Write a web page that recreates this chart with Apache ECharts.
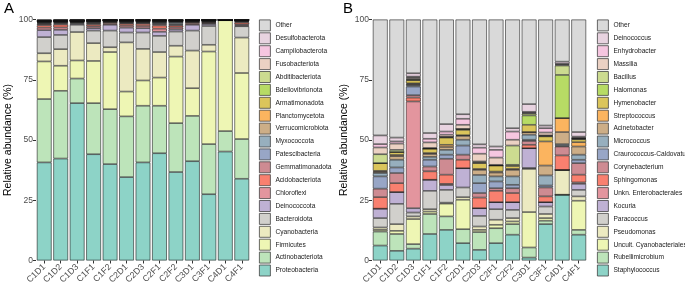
<!DOCTYPE html>
<html>
<head>
<meta charset="utf-8">
<script src="https://cdn.jsdelivr.net/npm/echarts@6/dist/echarts.min.js"></script>
<style>
  html, body {margin: 0; padding: 0; background: #fff;}
  #chart {width: 685px; height: 290px;}
</style>
</head>
<body>
<div id="chart"></div>
<script>
const samples = ['C1D1', 'C1D2', 'C1D3', 'C1F1', 'C1F2', 'C2D1', 'C2D3', 'C2F1', 'C2F2', 'C3D1', 'C3F1', 'C4D1', 'C4F1']
const yTicks = [0, 25, 50, 75, 100]

// panel A, phyla (bottom of stack first)
const proteobacteria = [40.7, 42.3, 65.3, 44.1, 40.0, 34.6, 40.7, 44.5, 36.7, 41.2, 27.5, 45.2, 33.9]
const actinobacteriota = [26.3, 28.1, 10.2, 21.2, 22.8, 25.2, 23.5, 19.7, 20.3, 18.8, 20.8, 8.5, 16.5]
const firmicutes = [15.6, 10.4, 7.5, 17.5, 23.7, 10.3, 10.5, 11.7, 27.6, 11.5, 38.4, 46.0, 27.4]
const cyanobacteria = [3.4, 6.9, 11.8, 7.4, 2.0, 20.4, 13.1, 10.6, 4.5, 15.6, 2.8, 0, 14.7]
const bacteroidota = [6.7, 5.9, 3.0, 5.2, 6.9, 4.1, 6.8, 6.7, 5.9, 8.3, 7.8, 0, 4.7]
const deinococcota = [2.9, 2.1, 0.5, 1.0, 2.4, 2.0, 1.8, 1.7, 0.9, 2.4, 0.8, 0, 0.3]
const chloroflexi = [1.0, 1.0, 0.3, 0.8, 0.5, 0.8, 0.9, 1.3, 0.8, 0.5, 0.4, 0.05, 0.5]
const acidobacteriota = [1.0, 1.2, 0.3, 0.8, 0.5, 0.8, 0.9, 1.3, 0.8, 0.5, 0.4, 0.05, 0.8]
const gemmatimonadota = [0.5, 0.4, 0.2, 0.4, 0.2, 0.4, 0.4, 0.5, 0.4, 0.2, 0.2, 0.02, 0.3]
const patescibacteria = [0.3, 0.3, 0.1, 0.3, 0.2, 0.3, 0.3, 0.4, 0.4, 0.2, 0.2, 0.02, 0.2]
const myxococcota = [0.3, 0.3, 0.1, 0.3, 0.2, 0.2, 0.2, 0.4, 0.6, 0.2, 0.2, 0.02, 0.2]
const verrucomicrobiota = [0.2, 0.2, 0.1, 0.2, 0.1, 0.2, 0.2, 0.2, 0.2, 0.1, 0.1, 0.02, 0.1]
const planctomycetota = [0.2, 0.1, 0.1, 0.1, 0.1, 0.1, 0.1, 0.2, 0.2, 0.1, 0.1, 0.02, 0.1]
const armatimonadota = [0.1, 0.1, 0.05, 0.1, 0.05, 0.1, 0.1, 0.2, 0.1, 0.1, 0.05, 0.02, 0.05]
const bdellovibrionota = [0.1, 0.1, 0.05, 0.1, 0.05, 0.1, 0.1, 0.1, 0.1, 0.05, 0.05, 0.02, 0.05]
const abditibacteriota = [0.1, 0.1, 0.05, 0.1, 0.05, 0.1, 0.1, 0.1, 0.1, 0.05, 0.05, 0.01, 0.05]
const fusobacteriota = [0.1, 0.1, 0.05, 0.1, 0.05, 0.1, 0.1, 0.1, 0.1, 0.05, 0.05, 0.01, 0.05]
const campilobacterota = [0.1, 0.1, 0.05, 0.1, 0.05, 0.1, 0.1, 0.1, 0.1, 0.05, 0.05, 0.01, 0.05]
const desulfobacterota = [0.1, 0.1, 0.05, 0.1, 0.05, 0.05, 0.05, 0.1, 0.1, 0.05, 0.05, 0.01, 0.05]
const otherA = [0.3, 0.2, 0.15, 0.1, 0.05, 0.05, 0.05, 0.1, 0.1, 0.05, 0.05, 0.03, 0.05]

// panel B, genera (bottom of stack first)
const staphylococcus = [6.2, 4.0, 4.9, 11.0, 12.7, 7.2, 4.4, 7.2, 10.7, 1.2, 15.1, 27.3, 10.7]
const rubellimicrobium = [5.8, 7.0, 1.9, 8.3, 5.6, 5.8, 7.4, 6.2, 4.4, 4.2, 1.4, 0, 2.0]
const uncultCyano = [0.7, 1.3, 10.4, 1.0, 5.3, 12.2, 0.9, 1.4, 1.1, 14.7, 1.1, 0, 12.1]
const pseudomonas = [1.0, 2.8, 1.1, 1.0, 0.4, 1.1, 1.4, 2.1, 1.4, 17.9, 1.7, 10.3, 1.8]
const paracoccus = [3.9, 8.4, 1.6, 7.6, 5.3, 4.0, 4.4, 4.4, 3.4, 0.4, 3.1, 0, 2.7]
const kocuria = [3.9, 4.9, 1.8, 4.6, 2.0, 8.0, 3.2, 2.9, 3.2, 8.2, 1.8, 0, 2.5]
const unknEntero = [0, 0, 44.3, 0, 0.5, 0, 0, 0, 0, 0, 0, 0, 0.6]
const sphingomonas = [4.8, 3.7, 1.6, 3.5, 3.8, 3.5, 4.4, 4.7, 3.8, 1.4, 2.4, 6.0, 3.2]
const corynebacterium = [3.5, 4.2, 1.0, 2.0, 6.6, 2.1, 1.9, 1.1, 2.0, 1.6, 3.7, 3.7, 4.8]
const craurococcus = [5.1, 2.3, 3.6, 2.8, 1.7, 3.8, 4.1, 2.8, 1.4, 0.5, 0.8, 0.3, 1.4]
const micrococcus = [1.4, 3.2, 0.5, 1.2, 2.0, 2.4, 3.4, 2.1, 3.5, 2.1, 4.2, 0.7, 2.1]
const acinetobacter = [0.5, 1.5, 0.5, 1.2, 1.2, 1.6, 2.1, 1.6, 2.7, 1.1, 4.1, 5.0, 3.4]
const streptococcus = [0.4, 0.5, 0.3, 0.4, 0.9, 0.3, 0.4, 0.4, 0.4, 0, 10.0, 5.8, 1.8]
const hymenobacter = [3.2, 1.2, 1.3, 1.8, 3.0, 2.2, 2.4, 2.5, 1.2, 3.0, 2.1, 0, 1.2]
const halomonas = [0, 0, 0.2, 0, 0.3, 0.4, 0.3, 0, 0.5, 3.9, 0.2, 17.9, 0.2]
const bacillus = [3.7, 0.9, 0.4, 0.3, 0, 0, 0.4, 0.3, 8.0, 0.8, 0.2, 3.9, 0.2]
const massilia = [2.8, 2.6, 0.6, 2.3, 0.9, 1.7, 3.2, 3.0, 2.4, 0.3, 1.2, 0.4, 0.3]
const enhydrobacter = [1.4, 0.9, 0.3, 1.5, 1.3, 2.5, 2.5, 3.2, 3.4, 0.4, 1.8, 0.3, 0.4]
const deinococcus = [3.6, 1.6, 1.4, 2.4, 3.1, 1.9, 1.4, 1.4, 1.4, 3.2, 1.1, 0.9, 1.9]
const otherB = [48.1, 49.0, 22.3, 47.1, 43.4, 39.3, 51.8, 52.7, 45.1, 35.1, 44.0, 17.5, 46.7]

const namesA = ['Proteobacteria', 'Actinobacteriota', 'Firmicutes', 'Cyanobacteria', 'Bacteroidota',
  'Deinococcota', 'Chloroflexi', 'Acidobacteriota', 'Gemmatimonadota', 'Patescibacteria',
  'Myxococcota', 'Verrucomicrobiota', 'Planctomycetota', 'Armatimonadota', 'Bdellovibrionota',
  'Abditibacteriota', 'Fusobacteriota', 'Campilobacterota', 'Desulfobacterota', 'Other']
const valuesA = [proteobacteria, actinobacteriota, firmicutes, cyanobacteria, bacteroidota,
  deinococcota, chloroflexi, acidobacteriota, gemmatimonadota, patescibacteria,
  myxococcota, verrucomicrobiota, planctomycetota, armatimonadota, bdellovibrionota,
  abditibacteriota, fusobacteriota, campilobacterota, desulfobacterota, otherA]

const namesB = ['Staphylococcus', 'Rubellimicrobium', 'Uncult. Cyanobacteriales', 'Pseudomonas', 'Paracoccus',
  'Kocuria', 'Unkn. Enterobacterales', 'Sphingomonas', 'Corynebacterium', 'Craurococcus-Caldovatus',
  'Micrococcus', 'Acinetobacter', 'Streptococcus', 'Hymenobacter', 'Halomonas',
  'Bacillus', 'Massilia', 'Enhydrobacter', 'Deinococcus', 'Other ']
const valuesB = [staphylococcus, rubellimicrobium, uncultCyano, pseudomonas, paracoccus,
  kocuria, unknEntero, sphingomonas, corynebacterium, craurococcus,
  micrococcus, acinetobacter, streptococcus, hymenobacter, halomonas,
  bacillus, massilia, enhydrobacter, deinococcus, otherB]

const colors = ['#8DD3C7', '#BDE4BA', '#EEF6B4', '#ECEAC1', '#D1D0CC',
  '#BFB1D4', '#E3959E', '#F9806F', '#CE8B92', '#98A6C6',
  '#97AFBE', '#CDAE87', '#FBB45F', '#DBC55B', '#B7DB65',
  '#CCDB90', '#EBD1C3', '#F6C6E0', '#E8D3E0', '#D9D9D9']

const barStyle = {borderColor: 'rgba(20,20,20,0.8)', borderWidth: 0.7}

function makeSeries(names, values, idx, stack) {
  return names.map((n, i) => ({
    name: n,
    type: 'bar',
    stack,
    xAxisIndex: idx,
    yAxisIndex: idx,
    barCategoryGap: '10%',
    data: values[i],
    itemStyle: Object.assign({color: colors[i]}, barStyle),
    emphasis: {disabled: true},
  }))
}

function xAx(idx) {
  return {
    type: 'category',
    gridIndex: idx,
    data: samples,
    axisLine: {show: false},
    axisTick: {show: true, length: 3, alignWithLabel: true, lineStyle: {color: '#333'}},
    axisLabel: {rotate: 45, fontSize: 8.8, color: '#4D4D4D', margin: 5, fontFamily: 'Liberation Sans', interval: 0},
  }
}

function yAx(idx) {
  return {
    type: 'value',
    gridIndex: idx,
    min: yTicks[0],
    max: yTicks[yTicks.length - 1],
    interval: 25,
    name: 'Relative abundance (%)',
    nameLocation: 'middle',
    nameGap: 22,
    nameTextStyle: {fontSize: 10.5, color: '#000', fontFamily: 'Liberation Sans'},
    axisLine: {show: false},
    axisTick: {show: true, length: 3, lineStyle: {color: '#333'}},
    axisLabel: {fontSize: 8.5, color: '#4D4D4D', margin: 3, fontFamily: 'Liberation Sans'},
    splitLine: {show: false},
  }
}

function legend(names, left) {
  return {
    orient: 'vertical',
    left,
    top: 19.5,
    padding: 0,
    itemWidth: 11,
    itemHeight: 11,
    itemGap: 1.1,
    icon: 'rect',
    selectedMode: false,
    data: names.slice().reverse(),
    itemStyle: {borderColor: '#444', borderWidth: 0.8},
    textStyle: {fontSize: 6.6, color: '#1a1a1a', fontFamily: 'Liberation Sans'},
  }
}

const chart = echarts.init(document.getElementById('chart'))
chart.setOption({
  animation: false,
  backgroundColor: '#fff',
  grid: [
    {left: 36, top: 19.5, width: 214, height: 241},
    {left: 372, top: 19.5, width: 215, height: 241},
  ],
  xAxis: [xAx(0), xAx(1)],
  yAxis: [yAx(0), yAx(1)],
  legend: [legend(namesA, 259), legend(namesB, 597)],
  graphic: [
    {type: 'text', left: 4, top: 1, style: {text: 'A', fontSize: 15, fill: '#000', fontFamily: 'Liberation Sans'}},
    {type: 'text', left: 343, top: 1, style: {text: 'B', fontSize: 15, fill: '#000', fontFamily: 'Liberation Sans'}},
  ],
  series: makeSeries(namesA, valuesA, 0, 'a').concat(makeSeries(namesB, valuesB, 1, 'b')),
})
</script>
</body>
</html>
